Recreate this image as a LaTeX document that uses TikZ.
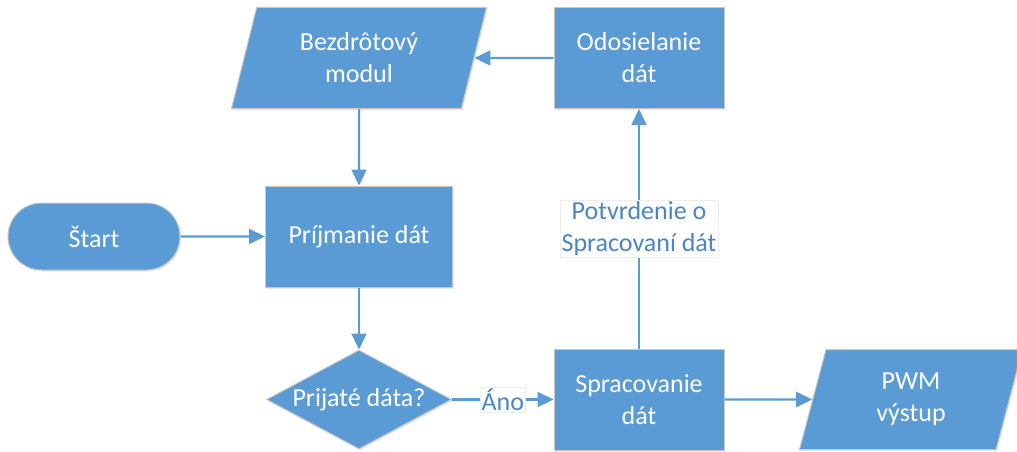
\documentclass[tikz,border=0pt]{standalone}
\usepackage{fontspec}
\setmainfont{Carlito}
\usetikzlibrary{shapes.geometric,shapes.misc,arrows.meta,shadows}
\definecolor{boxblue}{RGB}{91,155,213}
\definecolor{edgegray}{RGB}{200,200,200}
\definecolor{labelblue}{RGB}{74,134,196}
\begin{document}
\begin{tikzpicture}[x=1pt,y=-1pt,
  every node/.style={font=\fontsize{26}{32}\selectfont},
  shapebase/.style={fill=boxblue, draw=edgegray, line width=1pt, text=white,
    align=center, inner sep=0pt,
    drop shadow={shadow xshift=1.2pt, shadow yshift=-1.5pt, opacity=0.13, fill=black!70}},
  procbox/.style={shapebase, rectangle, minimum height=101pt},
  iobox/.style={shapebase, trapezium, trapezium left angle=63.4,
    trapezium right angle=116.6, trapezium stretches body, minimum height=101pt},
  startbox/.style={shapebase, rounded rectangle, minimum width=172pt, minimum height=67pt},
  decbox/.style={shapebase, diamond, minimum width=185pt, minimum height=99pt},
  conn/.style={draw=boxblue, line width=2.2pt, -{Triangle[length=16pt,width=15pt]}},
  tag/.style={fill=white, draw=black!7, line width=0.6pt, text=labelblue,
    align=center, inner xsep=1.5pt, inner ysep=1.5pt}]
\useasboundingbox (0,0) rectangle (1017,452);

% flowchart blocks
\node[iobox, minimum width=255pt] (bez) at (359,58) {Bezdrôtový\\modul};
\node[procbox, minimum width=170pt] (odo) at (639,58) {Odosielanie\\dát};
\node[startbox] (start) at (94,236.5) {Štart};
\node[procbox, minimum width=187pt] (pri) at (359,236.5) {Príjmanie dát};
\node[decbox] (dec) at (359,399.5) {};
\node[text=white] (dectext) at (dec) {Prijaté dáta?};
\node[procbox, minimum width=170pt] (spr) at (639,399.5) {Spracovanie\\dát};
\node[iobox, minimum width=223pt, minimum height=100pt] (pwm) at (911,399.5) {PWM\\výstup};

% connectors
\draw[conn] (start) -- (pri);
\draw[conn] (bez) -- (pri);
\draw[conn] (pri) -- (dec);
\draw[conn] (dec) -- node[tag] (ano) {Áno} (spr);
\draw[conn] (spr) -- node[tag] (ack) {Potvrdenie o\\Spracovaní dát} (odo);
\draw[conn] (odo) -- (bez);
\draw[conn] (spr) -- (pwm);
\end{tikzpicture}
\end{document}
